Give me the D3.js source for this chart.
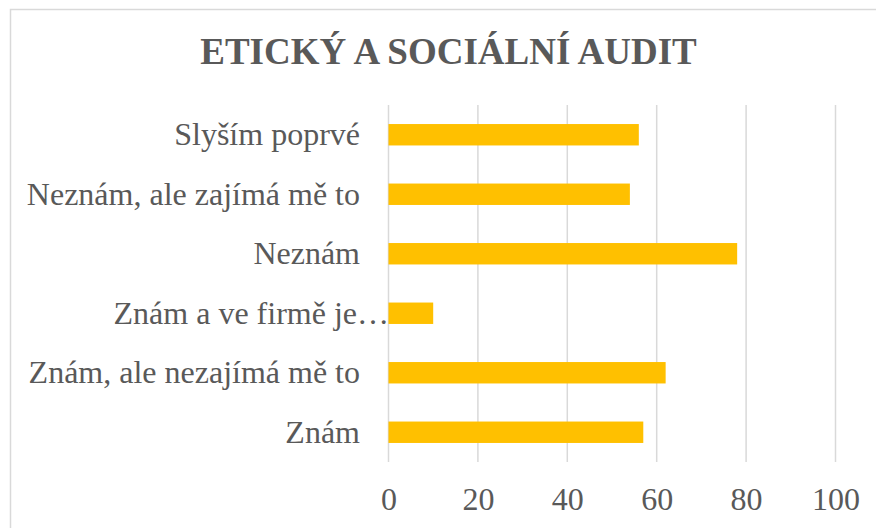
<!DOCTYPE html>
<html>
<head>
<meta charset="utf-8">
<script src="https://cdn.jsdelivr.net/npm/d3@7"></script>
<style>
body { margin: 0; background: #fff; }
</style>
</head>
<body>
<svg class="chart-svg"></svg>
<script>
var chart_width = 876;
var chart_height = 528;

// data, top to bottom as drawn
var categories = ['Slyším poprvé', 'Neznám, ale zajímá mě to', 'Neznám', 'Znám a ve firmě je…', 'Znám, ale nezajímá mě to', 'Znám'];
var values = [56, 54, 78, 10, 62, 57];
var tick_values = [0, 20, 40, 60, 80, 100];
var title_text = 'ETICKÝ A SOCIÁLNÍ AUDIT';

var plot_left = 388.5, plot_right = 835.5, plot_top = 105, plot_bottom = 462;
var text_color = '#595959';
var grid_color = '#d9d9d9';
var bar_color = '#ffc000';

var svg = d3.select('.chart-svg')
	.attr('width', chart_width)
	.attr('height', chart_height)
	.style('font-family', '"Liberation Serif", "Times New Roman", serif');

// chart border (runs off the right and bottom of the picture)
svg.append('rect')
	.attr('x', 10.5)
	.attr('y', 9.5)
	.attr('width', chart_width + 20)
	.attr('height', chart_height + 20)
	.attr('fill', 'none')
	.attr('stroke', '#d9d9d9')
	.attr('stroke-width', 1.5);

svg.append('text')
	.attr('x', 448.5)
	.attr('y', 64)
	.attr('text-anchor', 'middle')
	.attr('font-size', 37)
	.attr('font-weight', 'bold')
	.attr('fill', text_color)
	.text(title_text);

var x = d3.scaleLinear().domain([0, 100]).range([plot_left, plot_right]);
var y = d3.scaleBand().domain(categories).range([plot_top, plot_bottom]).paddingInner(0.64).paddingOuter(0.32);

// gridlines
svg.append('g')
	.selectAll('line')
	.data(tick_values)
	.enter()
	.append('line')
	.attr('x1', function(d) { return x(d); })
	.attr('x2', function(d) { return x(d); })
	.attr('y1', plot_top)
	.attr('y2', plot_bottom)
	.attr('stroke', grid_color)
	.attr('stroke-width', 1.5);

// bars
svg.append('g')
	.selectAll('rect')
	.data(values)
	.enter()
	.append('rect')
	.attr('x', x(0))
	.attr('y', function(d, i) { return y(categories[i]); })
	.attr('width', function(d) { return x(d) - x(0); })
	.attr('height', y.bandwidth())
	.attr('fill', bar_color);

// x axis labels
var x_axis = svg.append('g')
	.attr('transform', 'translate(0,' + plot_bottom + ')')
	.call(d3.axisBottom(x).tickValues(tick_values).tickSize(0).tickPadding(25));
x_axis.select('.domain').remove();
x_axis.selectAll('text')
	.attr('font-size', 32)
	.attr('font-family', '"Liberation Serif", "Times New Roman", serif')
	.attr('fill', text_color)
	.attr('dy', '0.71em');

// category labels
svg.append('g')
	.selectAll('text')
	.data(categories)
	.enter()
	.append('text')
	.attr('x', function(d) { return d.indexOf('…') >= 0 ? 389 : 360; })
	.attr('y', function(d) { return y(d) + y.bandwidth() / 2 + 10.5; })
	.attr('text-anchor', 'end')
	.attr('font-size', 32)
	.attr('fill', text_color)
	.text(function(d) { return d; });
</script>
</body>
</html>
